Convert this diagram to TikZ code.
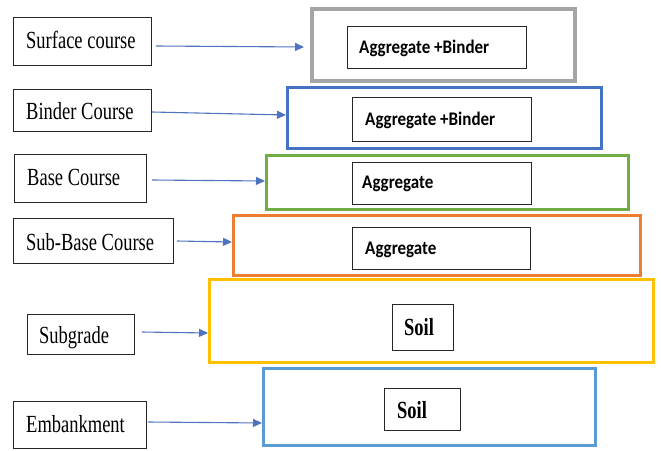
\documentclass[tikz,border=0pt]{standalone}
\usepackage{fontspec}
\setmainfont{Liberation Serif}
\newfontfamily\calib{Carlito}
\usetikzlibrary{arrows.meta}
\definecolor{cgray}{HTML}{A5A5A5}
\definecolor{cblue}{HTML}{4472C4}
\definecolor{cgreen}{HTML}{70AD47}
\definecolor{corange}{HTML}{ED7D31}
\definecolor{cyellow}{HTML}{FFC000}
\definecolor{clblue}{HTML}{5B9BD5}
\definecolor{carrow}{RGB}{80,115,190}
\newcommand\tallS[1]{\scalebox{1}[1.33]{#1}}
\newcommand\tallC[1]{\scalebox{1}[1.13]{#1}}
\tikzset{
  sbox/.style={draw=black!85, line width=1.2pt, inner sep=0pt},
  layer/.style={draw=#1, line width=3.2pt, inner sep=0pt},
  lbltext/.style={anchor=base west, inner sep=0pt, font=\fontsize{18.5}{20}\selectfont},
  mattext/.style={anchor=base west, inner sep=0pt, font=\calib\bfseries\fontsize{17}{19}\selectfont},
  soiltext/.style={anchor=base west, inner sep=0pt, font=\bfseries\fontsize{18.5}{20}\selectfont},
  arr/.style={draw=carrow, line width=1.1pt, -{Triangle[length=9pt,width=8pt]}}
}
\begin{document}
\begin{tikzpicture}[x=1pt,y=-1pt]
\useasboundingbox (0,0) rectangle (661,450);
% layers
\node[layer=cgray, line width=4pt, minimum width=263pt, minimum height=72pt] (lA) at (443.5,45) {};
\node[layer=cblue, minimum width=313.8pt, minimum height=60.8pt] (lB) at (444.5,118) {};
\node[layer=cgreen, minimum width=361.8pt, minimum height=53.8pt] (lC) at (447.5,182.5) {};
\node[layer=corange, minimum width=406.8pt, minimum height=59.8pt] (lD) at (437,245.5) {};
\node[layer=cyellow, minimum width=443.8pt, minimum height=82.8pt] (lE) at (431.5,321) {};
\node[layer=clblue, minimum width=331.8pt, minimum height=76.8pt] (lF) at (429.5,407) {};
% inner material boxes
\node[sbox, minimum width=178.8pt, minimum height=41.8pt] (iA) at (437,47.5) {};
\node[sbox, minimum width=178.8pt, minimum height=43.8pt] (iB) at (442,119.5) {};
\node[sbox, minimum width=178.8pt, minimum height=41.8pt] (iC) at (442,183.5) {};
\node[sbox, minimum width=177.8pt, minimum height=41.8pt] (iD) at (441.5,248.5) {};
\node[sbox, minimum width=60.8pt, minimum height=45.8pt] (iE) at (423,327.5) {};
\node[sbox, minimum width=75.8pt, minimum height=41.8pt] (iF) at (422.5,409.5) {};
\node[mattext] (tA) at (359,53.3) {\tallC{Aggregate +Binder}};
\node[mattext] (tB) at (365,125) {\tallC{Aggregate +Binder}};
\node[mattext] (tC) at (362,188.3) {\tallC{Aggregate}};
\node[mattext] (tD) at (365,254.3) {\tallC{Aggregate}};
\node[soiltext] (tE) at (404,335) {\tallS{Soil}};
\node[soiltext] (tF) at (397,418.3) {\tallS{Soil}};
% left label boxes
\node[sbox, minimum width=137.8pt, minimum height=47.8pt] (sA) at (82.5,41.5) {};
\node[sbox, minimum width=137.8pt, minimum height=41.8pt] (sB) at (82.5,110.5) {};
\node[sbox, minimum width=131.8pt, minimum height=47.8pt] (sC) at (80.5,178.5) {};
\node[sbox, minimum width=159.8pt, minimum height=44.8pt] (sD) at (93.5,241) {};
\node[sbox, minimum width=106.8pt, minimum height=39.8pt] (sE) at (81,334.5) {};
\node[sbox, minimum width=132.8pt, minimum height=46.8pt] (sF) at (80,425) {};
\node[lbltext] (nA) at (26,48.3) {\tallS{Surface course}};
\node[lbltext] (nB) at (26,119.3) {\tallS{Binder Course}};
\node[lbltext] (nC) at (27,185) {\tallS{Base Course}};
\node[lbltext] (nD) at (26,250) {\tallS{Sub-Base Course}};
\node[lbltext] (nE) at (39,343.3) {\tallS{Subgrade}};
\node[lbltext] (nF) at (26,432.3) {\tallS{Embankment}};
% arrows
\draw[arr] ([shift={(4,4.5)}]sA.east) -- ([shift={(-6,2)}]lA.west);
\draw[arr] ([shift={(0,1.5)}]sB.east) -- ([shift={(0,-3)}]lB.west);
\draw[arr] ([shift={(5,1.5)}]sC.east) -- ([shift={(0,-1.5)}]lC.west);
\draw[arr] ([shift={(3,0)}]sD.east) -- ([shift={(0,-3.5)}]lD.west);
\draw[arr] ([shift={(7,-2.5)}]sE.east) -- ([shift={(0,12)}]lE.west);
\draw[arr] ([shift={(1,-3)}]sF.east) -- ([shift={(0,16)}]lF.west);
\end{tikzpicture}
\end{document}
